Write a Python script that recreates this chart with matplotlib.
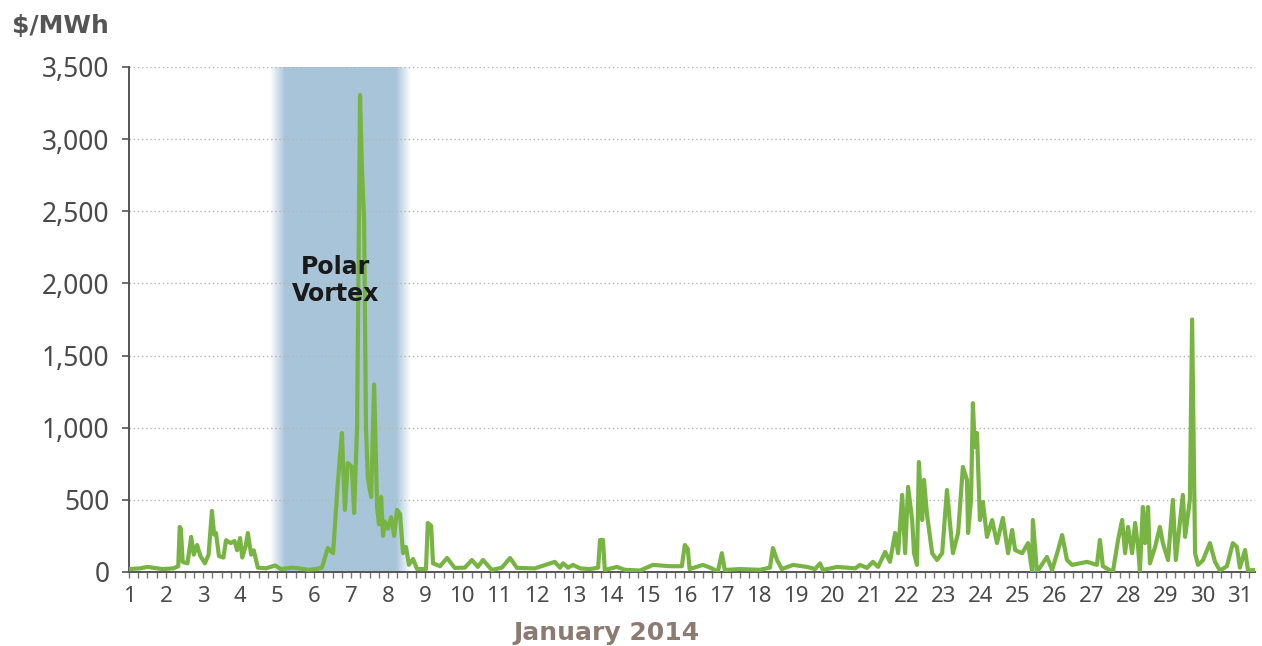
import numpy as np
import matplotlib.pyplot as plt
from matplotlib.ticker import MultipleLocator, FuncFormatter

# Hourly-ish price trace: day of January (fractional) and $/MWh
days = [1.00, 1.30, 1.50, 1.90, 2.20, 2.33, 2.37, 2.40, 2.45, 2.58, 2.68, 2.75, 2.84, 2.93,
        3.05, 3.15, 3.24, 3.30, 3.35, 3.43, 3.55, 3.62, 3.75, 3.85, 3.92, 4.00, 4.06, 4.15,
        4.21, 4.30, 4.37, 4.48, 4.70, 4.95, 5.10, 5.40, 5.60, 5.85, 6.05, 6.21, 6.37, 6.51,
        6.64, 6.75, 6.83, 6.91, 7.02, 7.08, 7.16, 7.24, 7.29, 7.35, 7.40, 7.45, 7.54, 7.62,
        7.70, 7.75, 7.81, 7.86, 7.91, 7.99, 8.08, 8.16, 8.24, 8.32, 8.40, 8.48, 8.56, 8.67,
        8.78, 9.02, 9.07, 9.16, 9.21, 9.40, 9.59, 9.80, 10.07, 10.26, 10.42, 10.56, 10.80,
        11.07, 11.29, 11.48, 11.96, 12.50, 12.64, 12.72, 12.86, 12.99, 13.18, 13.45, 13.67,
        13.72, 13.80, 13.85, 14.18, 14.39, 14.80, 15.15, 15.61, 15.93, 16.01, 16.09, 16.14,
        16.50, 16.74, 16.90, 17.01, 17.09, 17.50, 18.04, 18.31, 18.39, 18.50, 18.63, 18.93,
        19.31, 19.53, 19.66, 19.74, 20.12, 20.39, 20.61, 20.74, 20.93, 21.09, 21.23, 21.42,
        21.55, 21.69, 21.77, 21.88, 21.96, 22.04, 22.15, 22.20, 22.28, 22.33, 22.42, 22.47,
        22.55, 22.69, 22.82, 22.96, 23.09, 23.17, 23.25, 23.39, 23.52, 23.63, 23.66, 23.74,
        23.79, 23.84, 23.90, 23.98, 24.06, 24.17, 24.31, 24.44, 24.60, 24.74, 24.85, 24.93,
        25.12, 25.28, 25.39, 25.41, 25.52, 25.79, 25.93, 26.09, 26.20, 26.33, 26.47, 26.87,
        27.14, 27.22, 27.30, 27.57, 27.71, 27.82, 27.90, 27.98, 28.09, 28.17, 28.25, 28.30,
        28.38, 28.44, 28.52, 28.57, 28.71, 28.84, 28.92, 29.06, 29.19, 29.27, 29.46, 29.52,
        29.60, 29.65, 29.71, 29.79, 29.87, 30.00, 30.19, 30.33, 30.46, 30.65, 30.81, 30.92,
        31.00, 31.14, 31.22, 31.41]
prices = [20, 25, 35, 20, 25, 40, 312, 300, 70, 60, 243, 120, 187, 110,
          60, 120, 423, 260, 270, 110, 100, 220, 200, 215, 150, 235, 100, 180,
          270, 120, 150, 30, 25, 45, 20, 30, 25, 15, 20, 30, 166, 130,
          617, 963, 430, 755, 728, 409, 1005, 3305, 2800, 2440, 1000, 650, 520, 1300,
          450, 330, 520, 250, 350, 300, 380, 250, 430, 400, 130, 173, 50, 90,
          20, 20, 340, 320, 60, 40, 97, 28, 30, 83, 35, 83, 14,
          30, 97, 28, 25, 70, 30, 60, 30, 49, 25, 20, 30,
          222, 222, 14, 35, 15, 10, 49, 40, 40, 187, 160, 20,
          49, 25, 0, 130, 14, 20, 15, 30, 166, 83, 20, 49,
          35, 20, 60, 14, 35, 30, 25, 49, 28, 70, 35, 139,
          70, 270, 130, 534, 130, 590, 360, 130, 49, 762, 360, 638,
          400, 130, 83, 130, 568, 340, 130, 270, 728, 638, 270, 500,
          1170, 866, 963, 360, 485, 243, 360, 200, 374, 130, 291, 152,
          130, 200, 0, 360, 0, 104, 14, 152, 256, 83, 49, 70,
          49, 222, 40, 0, 222, 360, 130, 312, 130, 340, 173, 10,
          450, 200, 450, 60, 173, 312, 200, 83, 500, 83, 534, 243,
          400, 500, 1750, 130, 49, 80, 200, 70, 10, 40, 200, 173,
          30, 152, 10, 14]

vortex_start = 4.95
vortex_end = 8.45
yticks = [0, 500, 1000, 1500, 2000, 2500, 3000, 3500]
xticks = list(range(1, 32))

fig = plt.figure(figsize=(12.62, 6.46), dpi=100)
ax = fig.add_axes([0.1022, 0.1146, 0.8923, 0.7817])

# soft-edged blue band for the polar vortex
xs = np.linspace(vortex_start - 0.15, vortex_end + 0.15, 400)
edge = 0.4
alpha = np.clip(np.minimum((xs - xs[0]) / edge, (xs[-1] - xs) / edge), 0, 1)
band = np.zeros((1, len(xs), 4))
band[..., 0] = 0.60
band[..., 1] = 0.73
band[..., 2] = 0.83
band[..., 3] = alpha * 0.85
ax.imshow(band, extent=[xs[0], xs[-1], 0, 3500], aspect='auto', zorder=0, interpolation='bilinear')

for y in yticks[1:]:
    ax.axhline(y, color='#b5b5b5', lw=1, ls=(0, (1, 2)), zorder=1)

ax.plot(days, prices, color='#78b443', lw=3, zorder=3, solid_joinstyle='round')

ax.text(6.58, 2020, 'Polar\nVortex', ha='center', va='center', fontsize=17,
        fontweight='bold', color='#1a1a1a', linespacing=1.2, zorder=4)

ax.set_xlim(1, 31.41)
ax.set_ylim(0, 3500)
ax.set_yticks(yticks)
ax.set_xticks(xticks)
ax.xaxis.set_minor_locator(MultipleLocator(0.25))
ax.yaxis.set_major_formatter(FuncFormatter(lambda v, p: f'{int(v):,}'))

for s in ['top', 'right']:
    ax.spines[s].set_visible(False)
for s in ['left', 'bottom']:
    ax.spines[s].set_color('#555555')
    ax.spines[s].set_linewidth(1.4)

ax.tick_params(axis='y', length=5, width=1.2, color='#555555', pad=9,
               labelsize=19, labelcolor='#4a4a4a')
ax.tick_params(axis='x', which='both', length=4, width=1, color='#777777', pad=6,
               labelsize=16, labelcolor='#4a4a4a')
for lab in ax.get_xticklabels() + ax.get_yticklabels():
    lab.set_family('Noto Sans')
    lab.set_fontweight('light')

fig.text(12 / 1262, 1 - 33 / 646, '$/MWh', fontsize=18, fontweight='bold',
         color='#555555', ha='left', va='baseline')
fig.text(607 / 1262, 1 - 640 / 646, 'January 2014', fontsize=18, fontweight='bold',
         color='#8c7b72', ha='center', va='baseline')

fig.savefig('out.png', dpi=100)
